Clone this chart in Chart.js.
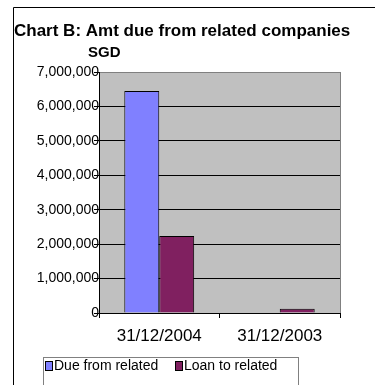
<!DOCTYPE html>
<html>
<head>
<meta charset="utf-8">
<script src="https://cdn.jsdelivr.net/npm/chart.js@4"></script>
<style>
  body { margin: 0; background: #fff; }
  #chart_b { display: block; }
</style>
</head>
<body>
<canvas id="chart_b" width="375" height="385"></canvas>
<script>
// data
const periods = ['31/12/2004', '31/12/2003'];
const seriesNames = ['Due from related', 'Loan to related'];
const dueFromRelated = [6450000, 0];
const loanToRelated = [2240000, 120000];
const yTicksMax = 7000000;
const yTicksStep = 1000000;

const FONT = '"Liberation Sans", Arial, sans-serif';
const seriesColors = ['#8080FF', '#802060'];

// gray plot background + frame, title, SGD caption and legend box
const decorPlugin = {
  id: 'decor',
  beforeDraw(chart) {
    const ctx = chart.ctx;
    const a = chart.chartArea;
    ctx.save();
    ctx.fillStyle = '#C0C0C0';
    ctx.fillRect(a.left, a.top, a.right - a.left, a.bottom - a.top);
    ctx.strokeStyle = '#808080';
    ctx.lineWidth = 1;
    ctx.strokeRect(Math.round(a.left) + 0.5, Math.round(a.top) + 0.5,
      Math.round(a.right - a.left), Math.round(a.bottom - a.top));
    ctx.restore();
  },
  afterDraw(chart) {
    const ctx = chart.ctx;
    ctx.save();
    // outer frame
    ctx.strokeStyle = '#000';
    ctx.lineWidth = 1;
    ctx.beginPath();
    ctx.moveTo(13.5, 400);
    ctx.lineTo(13.5, 7.5);
    ctx.lineTo(380, 7.5);
    ctx.stroke();

    // title
    ctx.fillStyle = '#000';
    ctx.textBaseline = 'middle';
    ctx.textAlign = 'left';
    ctx.font = 'bold 17px ' + FONT;
    ctx.fillText('Chart B: Amt due from related companies', 14, 31);
    ctx.font = 'bold 15px ' + FONT;
    ctx.fillText('SGD', 88, 53);

    // legend
    ctx.strokeStyle = '#808080';
    ctx.strokeRect(43.5, 357.5, 255, 40);
    ctx.font = '14px ' + FONT;
    const xs = [45, 175];
    chart.data.datasets.forEach((ds, i) => {
      ctx.fillStyle = ds.backgroundColor;
      ctx.fillRect(xs[i], 361, 7, 9);
      ctx.strokeStyle = '#000';
      ctx.strokeRect(xs[i] + 0.5, 361.5, 7, 9);
      ctx.fillStyle = '#000';
      ctx.fillText(ds.label, xs[i] + 9, 366);
    });
    ctx.restore();
  }
};

new Chart(document.getElementById('chart_b').getContext('2d'), {
  type: 'bar',
  data: {
    labels: periods,
    datasets: [{
      label: seriesNames[0],
      data: dueFromRelated,
      backgroundColor: seriesColors[0],
      borderColor: '#000',
      borderWidth: 1
    }, {
      label: seriesNames[1],
      data: loanToRelated,
      backgroundColor: seriesColors[1],
      borderColor: '#000',
      borderWidth: 1
    }]
  },
  options: {
    responsive: false,
    animation: false,
    layout: { padding: { top: 72, left: 0, right: 35, bottom: 0 } },
    datasets: { bar: { categoryPercentage: 0.58, barPercentage: 1 } },
    plugins: {
      legend: { display: false },
      title: { display: false },
      tooltip: { enabled: false }
    },
    scales: {
      x: {
        grid: { drawOnChartArea: false, color: '#000', tickLength: 5 },
        border: { color: '#000' },
        ticks: { color: '#000', font: { family: FONT, size: 17 }, padding: 8, maxRotation: 0 },
        afterFit(scale) { scale.height = 72; }
      },
      y: {
        min: 0,
        max: yTicksMax,
        grid: {
          color: (c) => c.tick && c.tick.value === yTicksMax ? '#808080' : '#000',
          tickColor: '#000',
          tickLength: 5
        },
        border: { color: '#000' },
        ticks: {
          stepSize: yTicksStep,
          color: '#000',
          padding: -5,
          font: { family: FONT, size: 14 },
          callback: (v) => v.toLocaleString('en-US')
        },
        afterFit(scale) { scale.width = 99; }
      }
    }
  },
  plugins: [decorPlugin]
});
</script>
</body>
</html>
